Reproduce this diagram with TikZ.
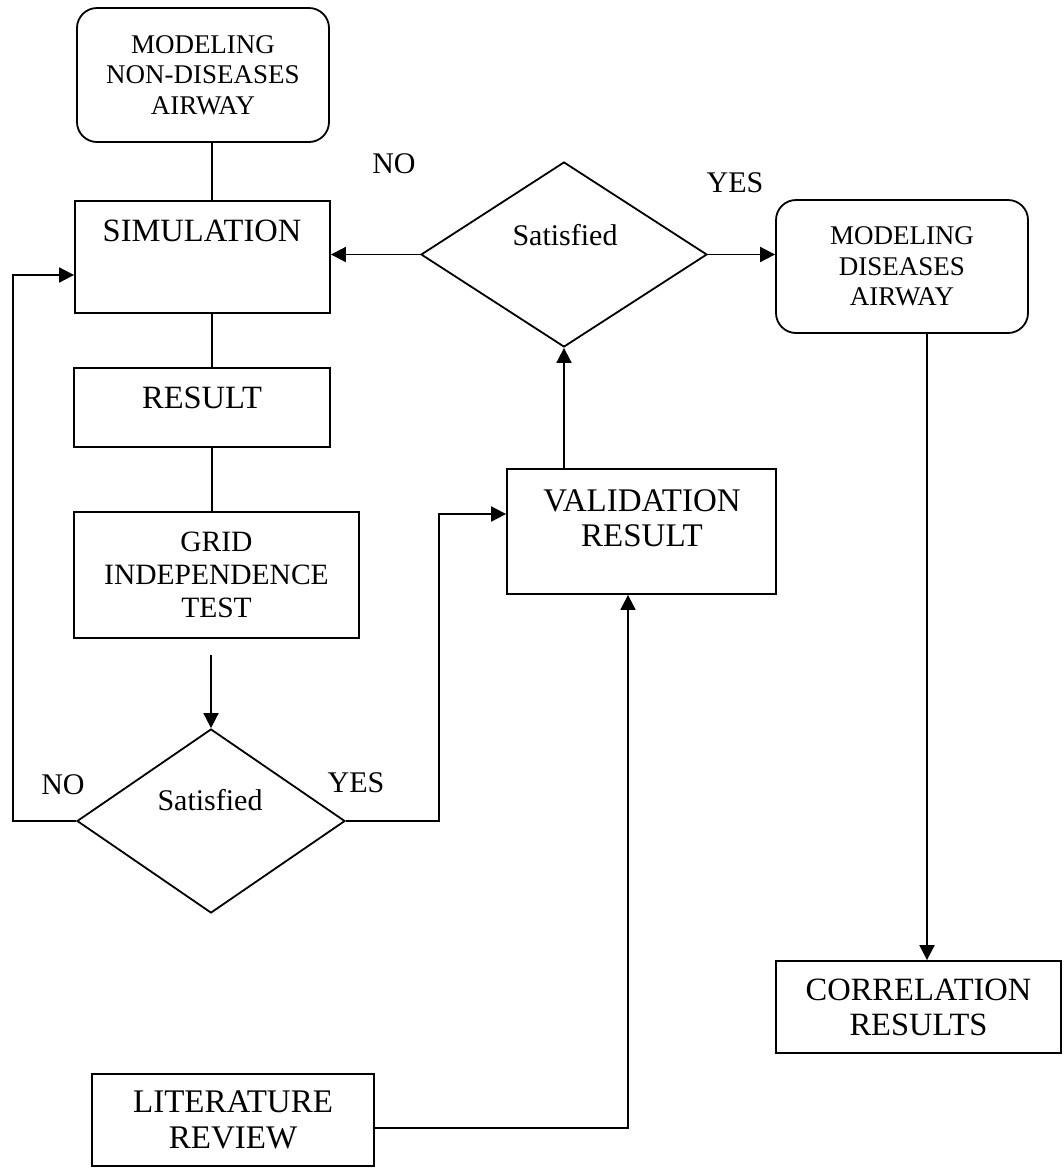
\documentclass[tikz,border=0pt]{standalone}
\usepackage{fontspec}
\setmainfont{Liberation Serif}
\usetikzlibrary{shapes.geometric,arrows.meta}
\begin{document}
\begin{tikzpicture}[x=1pt,y=-1pt,line width=1.8pt,
  box/.style={draw,rectangle,inner sep=0pt},
  rbox/.style={draw,rectangle,rounded corners=20pt,inner sep=0pt},
  dia/.style={draw,diamond,inner sep=0pt},
  maintxt/.style={font=\fontsize{32.5}{35}\selectfont,align=center,inner sep=0pt},
  smalltxt/.style={font=\fontsize{27}{30.5}\selectfont,align=center,inner sep=0pt},
  lab/.style={font=\fontsize{30}{34}\selectfont,inner sep=0pt},
  arr/.style={-{Triangle[length=15pt,width=15pt]}}]
\useasboundingbox (0,0) rectangle (1064,1168);
% boxes
\node[rbox,minimum width=252pt,minimum height=134pt,smalltxt] (top) at (203,75) {MODELING\\NON-DISEASES\\AIRWAY};
\node[box,minimum width=255pt,minimum height=112pt] (sim) at (202.5,257) {};
\node[maintxt] (simt) at (202,231) {SIMULATION};
\node[box,minimum width=256pt,minimum height=79pt] (res) at (202,407.5) {};
\node[maintxt] (rest) at (202,398) {RESULT};
\node[box,minimum width=285pt,minimum height=126pt,maintxt,font=\fontsize{29.5}{33}\selectfont] (grid) at (216.5,575) {GRID\\INDEPENDENCE\\TEST};
\node[box,minimum width=269pt,minimum height=125pt] (val) at (641.5,531.5) {};
\node[maintxt,font=\fontsize{33}{35}\selectfont] (valt) at (642,518) {VALIDATION\\RESULT};
\node[rbox,minimum width=252pt,minimum height=133pt,smalltxt] (mdis) at (902,266.5) {MODELING\\DISEASES\\AIRWAY};
\node[box,minimum width=285pt,minimum height=92pt,maintxt] (corr) at (918.5,1007) {CORRELATION\\RESULTS};
\node[box,minimum width=282pt,minimum height=92pt,maintxt,font=\fontsize{33}{36}\selectfont] (lit) at (233,1120) {LITERATURE\\REVIEW};
% diamonds
\node[dia,minimum width=268pt,minimum height=184pt] (d1) at (211,821) {};
\node[lab] (s1) at (210,800) {Satisfied};
\node[dia,minimum width=286pt,minimum height=185pt] (d2) at (564,254.5) {};
\node[lab] (s2) at (565,235) {Satisfied};
% labels
\node[lab] (no1) at (394,164) {NO};
\node[lab] (yes1) at (735,183) {YES};
\node[lab] (no2) at (63,785) {NO};
\node[lab] (yes2) at (356,783) {YES};
% helper coordinates
\coordinate (cx) at (212,0);
\coordinate (g0) at (211,655);
\coordinate (lx) at (13,275);
\coordinate (rx) at (439,514);
\coordinate (mx) at (927,0);
\coordinate (lv) at (628,1128);
% connectors
\draw (top.south -| cx) -- (sim.north -| cx);
\draw (sim.south -| cx) -- (res.north -| cx);
\draw (res.south -| cx) -- (grid.north -| cx);
\draw[arr] (g0) -- (d1.north);
\draw[arr] (d1.west) -| (lx) -- (lx -| sim.west);
\draw[arr] (d1.east) -| (rx) -- (rx -| val.west);
\draw[arr] (d2.south |- val.north) -- (d2.south);
\draw[arr] (d2.west) -- (d2.west -| sim.east);
\draw[arr] (d2.east) -- (d2.east -| mdis.west);
\draw[arr] (mdis.south -| mx) -- (corr.north -| mx);
\draw[arr] (lv -| lit.east) -| (val.south -| lv);
\end{tikzpicture}
\end{document}
